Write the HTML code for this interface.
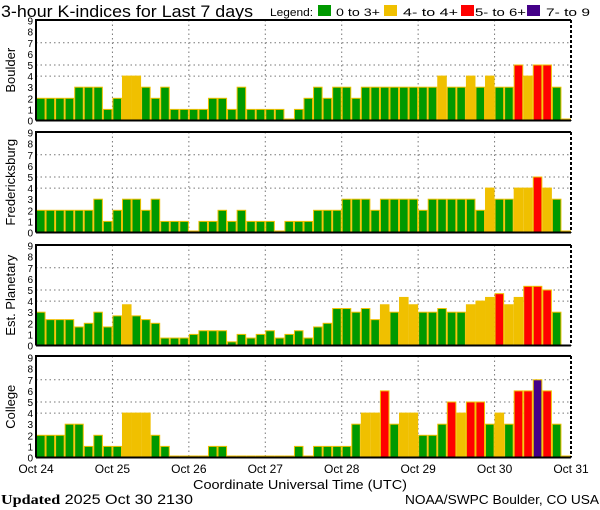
<!DOCTYPE html>
<html><head><meta charset="utf-8"><style>
body{margin:0;background:#fff;}
svg{display:block;font-family:"Liberation Sans","DejaVu Sans",sans-serif;}
</style></head><body>
<svg id="chart" width="600" height="510" viewBox="0 0 600 510">
<text x="1" y="17" font-size="17" textLength="252" lengthAdjust="spacingAndGlyphs">3-hour K-indices for Last 7 days</text>
<g font-size="11">
<text x="270" y="16" textLength="43" lengthAdjust="spacingAndGlyphs">Legend:</text>
<rect x="318" y="5" width="13" height="11" fill="#009900"/>
<text x="336" y="16" textLength="44" lengthAdjust="spacingAndGlyphs">0 to 3+</text>
<rect x="384" y="5" width="13" height="11" fill="#f0c000"/>
<text x="403" y="16" textLength="55" lengthAdjust="spacingAndGlyphs">4- to 4+</text>
<rect x="461" y="5" width="13" height="11" fill="#ff0000"/>
<text x="475" y="16" textLength="51" lengthAdjust="spacingAndGlyphs">5- to 6+</text>
<rect x="527" y="5" width="13" height="11" fill="#440088"/>
<text x="546" y="16" textLength="44" lengthAdjust="spacingAndGlyphs">7- to 9</text>
</g>
<g id="panels"></g>
<text x="193" y="489" font-size="13" textLength="214" lengthAdjust="spacingAndGlyphs">Coordinate Universal Time (UTC)</text>
<text x="1" y="504" font-size="14" textLength="192" lengthAdjust="spacingAndGlyphs"><tspan font-weight="bold" font-family="Liberation Serif, serif">Updated</tspan> 2025 Oct 30 2130</text>
<text x="405" y="504" font-size="13" textLength="194" lengthAdjust="spacingAndGlyphs">NOAA/SWPC Boulder, CO USA</text>
</svg>
<script>
const dayLabels = ["Oct 24","Oct 25","Oct 26","Oct 27","Oct 28","Oct 29","Oct 30","Oct 31"];
const yTicks = [0,1,2,3,4,5,6,7,8,9];
const gridLevels = [4,5,7];
const stationNames = ["Boulder","Fredericksburg","Est. Planetary","College"];
const boulder = [2,2,2,2,3,3,3,1,2,4,4,3,2,3,1,1,1,1,2,2,1,3,1,1,1,1,0,1,2,3,2,3,3,2,3,3,3,3,3,3,3,3,4,3,3,4,3,4,3,3,5,4,5,5,3,0];
const fredericksburg = [2,2,2,2,2,2,3,1,2,3,3,2,3,1,1,1,0,1,1,2,1,2,1,1,1,0,1,1,1,2,2,2,3,3,3,2,3,3,3,3,2,3,3,3,3,3,2,4,3,3,4,4,5,4,3,0];
const planetary = [3,2.33,2.33,2.33,1.67,2,3,1.67,2.67,3.67,2.67,2.33,2,0.67,0.67,0.67,1,1.33,1.33,1.33,0.33,1,0.67,1,1.33,0.67,1,1.33,0.67,1.67,2,3.33,3.33,3,3.33,2.33,3.67,3,4.33,3.67,3,3,3.33,3,3,3.67,4,4.33,4.67,3.67,4.33,5.33,5.33,5,3,null];
const college = [2,2,2,3,3,1,2,1,1,4,4,4,2,1,0,0,0,0,1,1,0,0,0,0,0,0,0,1,0,1,1,1,1,3,4,4,6,3,4,4,2,2,3,5,4,5,5,3,4,3,6,6,7,6,3,0];
const seriesList = [boulder, fredericksburg, planetary, college];

const NS="http://www.w3.org/2000/svg";
const X0=36, X1=571, NB=56;
const panelTops=[20,132,245,356], panelZeros=[120.5,232.5,345.5,457.5];
const unit=11.1;
const bw=(X1-X0)/NB;
const xScale=i=>X0+i*bw;
function yScale(p,v){return panelZeros[p]-v*unit;}
function colorFor(v){return v>=6.5?"#440088":v>=4.5?"#ff0000":v>=3.5?"#f0c000":"#009900";}
function mk(tag,attrs,parent){const e=document.createElementNS(NS,tag);for(const k in attrs)e.setAttribute(k,attrs[k]);parent.appendChild(e);return e;}
const root=document.getElementById('panels');
seriesList.forEach((data,p)=>{
  const g=mk('g',{},root);
  
  
  const top=panelTops[p], z=panelZeros[p];
  const bg=mk('rect',{x:X0,y:top,width:X1-X0,height:z-top,fill:'#fff'},g);
  
  
  gridLevels.forEach(l=>{const ln=mk('line',{x1:X0,x2:X1,y1:yScale(p,l),y2:yScale(p,l),stroke:'#777','stroke-dasharray':'1.5,3'},g);
    });
  for(let d=1;d<7;d++){const x=xScale(d*8);const ln=mk('line',{x1:x,x2:x,y1:top,y2:z,stroke:'#777','stroke-dasharray':'1.5,3'},g);
    }
  data.forEach((v,i)=>{
    if(v===null)return;
    const h=Math.max(v*unit,1.5);
    const r=mk('rect',{x:xScale(i)+0.5,y:z-h,width:bw-1,height:h,fill:colorFor(v),stroke:'#f0c000','stroke-width':1},g);
    
    
  });
  yTicks.forEach(t=>{const tx=mk('text',{x:33,y:yScale(p,t)+4,'font-size':10,'text-anchor':'end'},g);tx.textContent=t;
    });
  const cy=(top+z)/2;
  const lab=mk('text',{x:0,y:0,'font-size':13,'text-anchor':'middle',transform:`translate(15,${cy}) rotate(-90)`},g);
  lab.textContent=stationNames[p];
  
  
  const fr=mk('path',{d:`M${X0},${z} V${top} H${X1} M${X0},${z} H${X1}`,fill:'none',stroke:'#000','stroke-width':2},g);
  
  const rs=mk('line',{x1:X1,x2:X1,y1:top,y2:z,stroke:'#000','stroke-width':2,'stroke-dasharray':'3,2'},g);
  
});
dayLabels.forEach((d,k)=>{const t=mk('text',{x:xScale(k*8),y:473,'font-size':12,'text-anchor':'middle'},root);t.textContent=d;
  });
</script>
</body></html>
